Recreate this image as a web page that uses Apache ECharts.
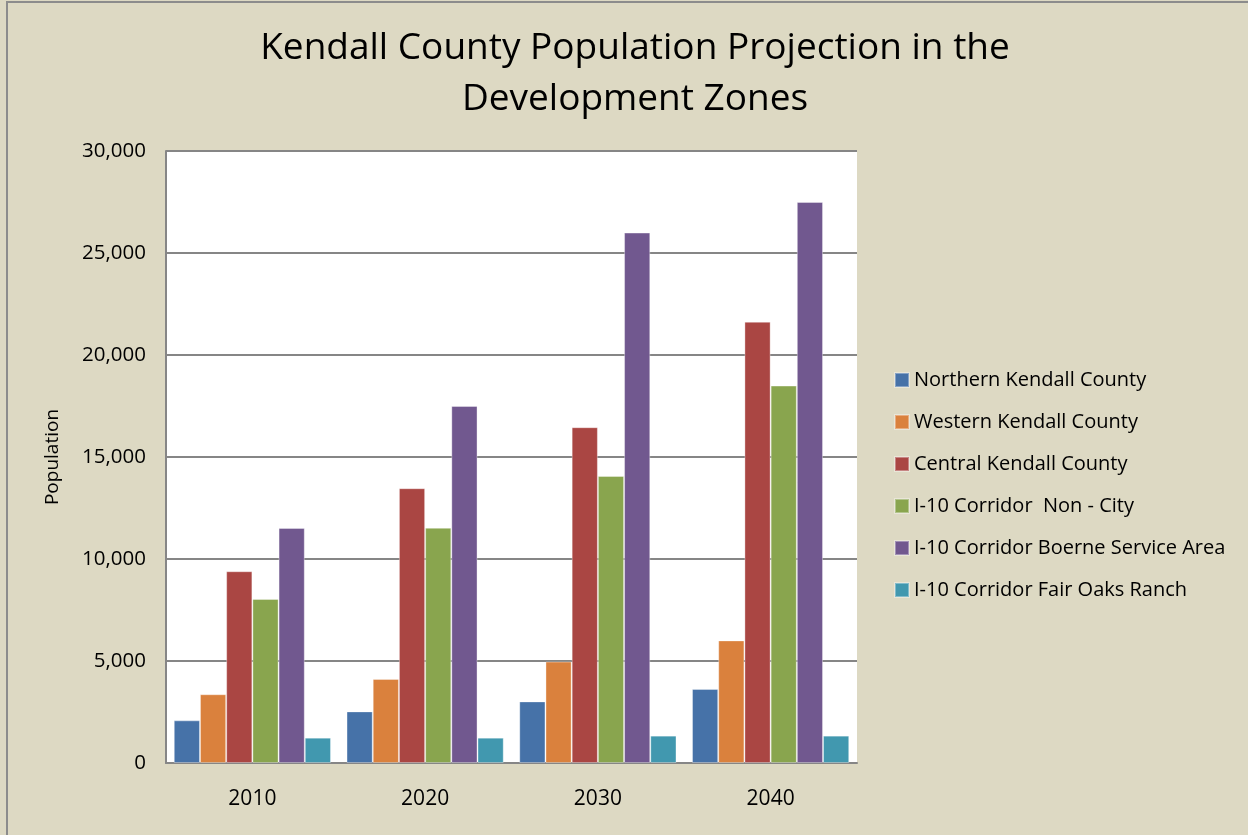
<!DOCTYPE html>
<html>
<head>
<meta charset="utf-8">
<script src="https://cdn.jsdelivr.net/npm/echarts@6/dist/echarts.min.js"></script>
<style>
html,body{margin:0;padding:0;background:#DDD9C3;}
#c{width:1248px;height:835px;}
</style>
</head>
<body>
<div id="c"></div>
<script>
const categories = ['2010', '2020', '2030', '2040'];
const seriesNames = [
  'Northern Kendall County',
  'Western Kendall County',
  'Central Kendall County',
  'I-10 Corridor  Non - City',
  'I-10 Corridor Boerne Service Area',
  'I-10 Corridor Fair Oaks Ranch'
];
const northern = [2090, 2530, 3020, 3630];
const western = [3370, 4120, 4970, 6010];
const central = [9400, 13470, 16460, 21630];
const nonCity = [8040, 11530, 14070, 18500];
const boerne = [11520, 17500, 26000, 27500];
const fairOaks = [1240, 1240, 1340, 1340];
const colors = ['#4672A8', '#DA813D', '#AA4643', '#89A54E', '#71588F', '#4198AF'];
const titleText = 'Kendall County Population Projection in the\nDevelopment Zones';
const yTitle = 'Population';

const dataSets = [northern, western, central, nonCity, boerne, fairOaks];
const font = 'Open Sans';

const chart = echarts.init(document.getElementById('c'));
chart.setOption({
  backgroundColor: '#DDD9C3',
  animation: false,
  color: colors,
  title: {
    text: titleText,
    left: 630,
    textAlign: 'center',
    top: 18,
    textStyle: {
      fontFamily: font,
      fontWeight: 'normal',
      fontSize: 37,
      lineHeight: 51,
      color: '#000'
    }
  },
  legend: {
    orient: 'vertical',
    left: 889,
    top: 365,
    itemWidth: 14,
    itemHeight: 14,
    itemGap: 22,
    icon: 'rect',
    textStyle: { fontFamily: font, fontSize: 20, color: '#000' },
    data: seriesNames
  },
  grid: {
    left: 166, top: 151, width: 691, height: 612,
    show: true, backgroundColor: '#FFFFFF', borderWidth: 0
  },
  xAxis: {
    type: 'category',
    data: categories,
    axisLine: { lineStyle: { color: '#868686', width: 2 } },
    axisTick: { show: false },
    axisLabel: { fontFamily: font, fontSize: 21, color: '#000', margin: 26 }
  },
  yAxis: {
    type: 'value',
    min: 0, max: 30000, interval: 5000,
    name: yTitle,
    nameLocation: 'middle',
    nameGap: 104,
    nameTextStyle: { fontFamily: font, fontSize: 19, color: '#000' },
    axisLine: { show: true, lineStyle: { color: '#868686', width: 2 } },
    axisTick: { show: false },
    splitLine: { lineStyle: { color: '#868686', width: 2 } },
    axisLabel: {
      fontFamily: font, fontSize: 20.5, color: '#000', margin: 20,
      formatter: v => v.toLocaleString('en-US')
    }
  },
  series: seriesNames.map((n, i) => ({
    name: n,
    type: 'bar',
    data: dataSets[i],
    barGap: '0%',
    barCategoryGap: '9%',
    itemStyle: { borderColor: 'rgba(255,255,255,0.35)', borderWidth: 1 }
  })),
  graphic: [{
    type: 'rect',
    shape: { x: 7, y: 2, width: 1300, height: 900 },
    style: { fill: null, stroke: '#8C8C8C', lineWidth: 2 },
    silent: true
  }]
});
</script>
</body>
</html>
